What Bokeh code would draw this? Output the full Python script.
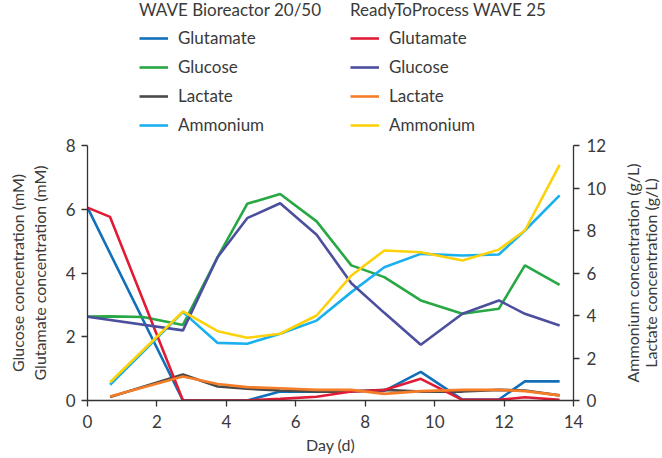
import math
from bokeh.plotting import figure
from bokeh.layouts import column, row
from bokeh.models import (Range1d, LinearAxis, FixedTicker, Legend, LegendItem, Label)
from bokeh.embed import file_html
from bokeh.resources import INLINE

# ---- data ----
days = [0, 0.65, 2.75, 3.75, 4.6, 5.55, 6.6, 7.6, 8.55, 9.6, 10.8, 11.85, 12.6, 13.6]

wave_glut_days = [0, 2.75, 3.75, 4.6, 5.55, 6.6, 7.6, 8.55, 9.6, 10.8, 11.85, 12.6, 13.6]
wave_glut = [6.05, 0, 0, 0, 0.28, 0.28, 0.3, 0.3, 0.9, 0.03, 0.03, 0.6, 0.6]

rtp_glut = [6.05, 5.76, 0, 0, 0, 0.05, 0.12, 0.28, 0.33, 0.68, 0.02, 0.02, 0.1, 0.02]

wave_gluc_days = [0, 0.65, 1.6, 2.75, 3.75, 4.6, 5.55, 6.6, 7.6, 8.55, 9.6, 10.8, 11.85, 12.6, 13.6]
wave_gluc = [2.63, 2.64, 2.62, 2.37, 4.5, 6.17, 6.48, 5.62, 4.24, 3.87, 3.14, 2.72, 2.88, 4.24, 3.63]

rtp_gluc_days = [0, 2.75, 3.75, 4.6, 5.55, 6.6, 7.6, 8.55, 9.6, 10.8, 11.85, 12.6, 13.6]
rtp_gluc = [2.63, 2.2, 4.5, 5.72, 6.19, 5.2, 3.68, 2.75, 1.75, 2.72, 3.14, 2.72, 2.35]

g_days = days[1:]
wave_lact = [0.16, 1.22, 0.66, 0.55, 0.47, 0.42, 0.42, 0.5, 0.42, 0.42, 0.5, 0.47, 0.24]
rtp_lact = [0.19, 1.13, 0.78, 0.63, 0.58, 0.5, 0.5, 0.31, 0.44, 0.5, 0.5, 0.44, 0.24]
wave_ammo = [0.74, 4.16, 2.71, 2.67, 3.14, 3.76, 5.1, 6.27, 6.9, 6.82, 6.87, 8.0, 9.65]
rtp_ammo = [0.86, 4.19, 3.26, 2.95, 3.14, 4.0, 5.88, 7.06, 6.98, 6.59, 7.1, 8.0, 11.09]

x_ticks = [0, 2, 4, 6, 8, 10, 12, 14]
left_ticks = [0, 2, 4, 6, 8]
right_ticks = [0, 2, 4, 6, 8, 10, 12]

group_titles = ["WAVE Bioreactor 20/50", "ReadyToProcess WAVE 25"]
series_names = ["Glutamate", "Glucose", "Lactate", "Ammonium"]
right_labels = ["Ammonium concentration (g/L)", "Lactate concentration (g/L)"]

FONT = "Lato"
TXT = "#3a3a3a"
AX = "#333333"
LW = 2.6

C_WG = "#1170b9"
C_WGL = "#27a844"
C_WL = "#4a4a4a"
C_WA = "#1ab0ef"
C_RG = "#e11b35"
C_RGL = "#4c4e9e"
C_RL = "#f57d28"
C_RA = "#fdd20a"

TOP_H = 135
MAIN_TOP = 10
MAIN_BOTTOM = 55
FRAME_W = 486
FRAME_H = 255
LEFT_B = 87
RIGHT_B = 36
RFIG_W = 662 - LEFT_B - FRAME_W - RIGHT_B

# ---------- main chart ----------
p = figure(frame_width=FRAME_W, frame_height=FRAME_H, output_backend="svg",
           toolbar_location=None, x_range=Range1d(0, 14), y_range=Range1d(0, 8),
           min_border_left=LEFT_B, min_border_right=RIGHT_B, min_border_top=MAIN_TOP,
           min_border_bottom=MAIN_BOTTOM)
p.extra_y_ranges = {"right": Range1d(0, 12)}
p.outline_line_color = None
p.grid.visible = False


def style_axis(ax):
    ax.axis_line_color = AX
    ax.axis_line_width = 1.3
    ax.major_tick_line_color = AX
    ax.major_tick_line_width = 1.3
    ax.major_tick_in = 0
    ax.major_tick_out = 6
    ax.minor_tick_line_color = None
    ax.major_label_text_font = FONT
    ax.major_label_text_font_size = "17px"
    ax.major_label_text_color = TXT
    ax.axis_label_text_font = FONT
    ax.axis_label_text_font_size = "16px"
    ax.axis_label_text_font_style = "normal"
    ax.axis_label_text_color = TXT


xa = p.xaxis[0]
style_axis(xa)
xa.ticker = FixedTicker(ticks=x_ticks)
xa.axis_label = "Day (d)"
xa.axis_label_standoff = 4
xa.major_label_standoff = 8

ya = p.yaxis[0]
style_axis(ya)
ya.ticker = FixedTicker(ticks=left_ticks)
ya.axis_label = "Glutamate concentration (mM)"
ya.axis_label_standoff = 14
ya.major_label_standoff = 6

ya2 = LinearAxis(ticker=FixedTicker(ticks=[]), axis_label="Glucose concentration (mM)")
style_axis(ya2)
ya2.axis_line_color = None
ya2.axis_label_standoff = 0
ya2.major_label_standoff = 0
ya2.major_tick_out = 0
p.add_layout(ya2, "left")

ra = LinearAxis(y_range_name="right", ticker=FixedTicker(ticks=right_ticks))
style_axis(ra)
ra.major_label_standoff = 7
p.add_layout(ra, "right")

series = [
    (wave_glut_days, wave_glut, C_WG, "default"),
    (wave_gluc_days, wave_gluc, C_WGL, "default"),
    (g_days, wave_ammo, C_WA, "right"),
    (g_days, wave_lact, C_WL, "right"),
    (days, rtp_glut, C_RG, "default"),
    (rtp_gluc_days, rtp_gluc, C_RGL, "default"),
    (g_days, rtp_ammo, C_RA, "right"),
    (g_days, rtp_lact, C_RL, "right"),
]
for xs, ys, c, rn in series:
    p.line(xs, ys, line_color=c, line_width=LW, y_range_name=rn)

# ---------- right-hand axis titles ----------
rfig = figure(frame_width=RFIG_W, frame_height=FRAME_H, output_backend="svg",
              toolbar_location=None, x_axis_type=None, y_axis_type=None,
              min_border_left=0, min_border_right=0, min_border_top=MAIN_TOP,
              min_border_bottom=MAIN_BOTTOM, x_range=Range1d(0, RFIG_W),
              y_range=Range1d(0, 8))
rfig.outline_line_color = None
rfig.grid.visible = False
for txt, xpos in zip(right_labels, [632 - 662 + RFIG_W, 650 - 662 + RFIG_W]):
    rfig.add_layout(Label(x=xpos, y=4, text=txt, angle=math.pi / 2,
                          text_align="center", text_baseline="middle",
                          text_font=FONT, text_font_size="16px", text_color=TXT))

# ---------- legend strip ----------
top = figure(frame_width=FRAME_W, frame_height=TOP_H, output_backend="svg",
             toolbar_location=None, x_axis_type=None, y_axis_type=None,
             min_border_left=LEFT_B, min_border_right=662 - LEFT_B - FRAME_W,
             min_border_top=0, min_border_bottom=0,
             x_range=Range1d(100, 101), y_range=Range1d(100, 101))
top.outline_line_color = None
top.grid.visible = False


def make_legend(title, idxs, loc):
    its = []
    for n, i in zip(series_names, idxs):
        xs, ys, c, rn = series[i]
        r = top.line(xs, ys, line_color=c, line_width=LW)
        its.append(LegendItem(label=n, renderers=[r]))
    lg = Legend(items=its, title=title, location=loc, orientation="vertical")
    lg.border_line_color = None
    lg.background_fill_alpha = 0
    lg.padding = 0
    lg.margin = 0
    lg.spacing = 8
    lg.glyph_width = 29
    lg.glyph_height = 20
    lg.label_height = 20
    lg.label_standoff = 10
    lg.label_text_font = FONT
    lg.label_text_font_size = "17px"
    lg.label_text_color = TXT
    lg.title_text_font = FONT
    lg.title_text_font_size = "17px"
    lg.title_text_font_style = "normal"
    lg.title_text_color = TXT
    lg.title_standoff = 7
    top.add_layout(lg)
    return lg


make_legend(group_titles[0], [0, 1, 3, 2], (52, 0))
make_legend(group_titles[1], [4, 5, 7, 6], (263, 0))

layout = column(top, row(p, rfig, spacing=0), spacing=0)
open("out.html", "w").write(file_html(layout, INLINE))
